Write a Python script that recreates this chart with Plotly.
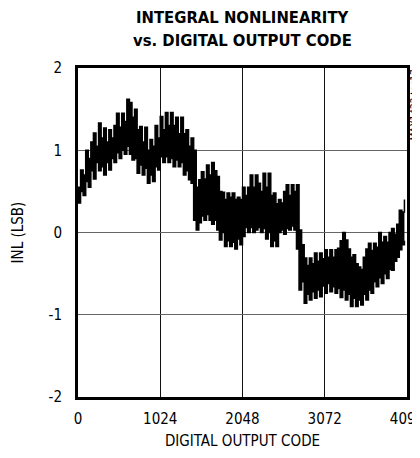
import plotly.graph_objects as go

# Digital output codes (sampled every 32 codes)
codes = list(range(0, 4096, 32))

# Upper edge of the INL band (LSB)
inl_upper = [
    0.55, 0.76, 0.70, 1.00, 0.90, 1.10, 1.21, 1.05, 1.33, 1.15,
    1.27, 1.10, 1.25, 1.15, 1.30, 1.45, 1.28, 1.45, 1.35, 1.62,
    1.58, 1.40, 1.50, 1.25, 1.29, 1.10, 1.28, 1.00, 1.13, 1.05,
    1.30, 1.15, 1.41, 1.25, 1.46, 1.30, 1.46, 1.30, 1.40, 1.20,
    1.40, 1.20, 1.25, 1.05, 1.15, 1.00, 0.55, 0.64, 0.74, 0.65,
    0.82, 0.70, 0.85, 0.75, 0.68, 0.50, 0.49, 0.40, 0.48, 0.43,
    0.48, 0.40, 0.43, 0.40, 0.55, 0.45, 0.55, 0.70, 0.55, 0.70,
    0.60, 0.50, 0.72, 0.55, 0.72, 0.45, 0.48, 0.35, 0.40, 0.36,
    0.50, 0.58, 0.45, 0.58, 0.50, 0.58, 0.03, -0.15, -0.31, -0.40,
    -0.31, -0.38, -0.25, -0.35, -0.25, -0.32, -0.21, -0.30, -0.21, -0.30,
    -0.21, -0.19, -0.10, 0.00, -0.09, -0.20, -0.30, -0.27, -0.38, -0.42,
    -0.45, -0.30, -0.20, -0.13, -0.22, -0.13, -0.18, 0.00, -0.12, -0.05,
    -0.12, 0.00, 0.05, -0.02, 0.10, 0.27, 0.25, 0.40,
]

# Lower edge of the INL band (LSB)
inl_lower = [
    0.36, 0.50, 0.45, 0.62, 0.55, 0.75, 0.65, 0.85, 0.75, 0.80,
    0.70, 0.85, 0.76, 0.90, 0.85, 0.97, 0.90, 1.00, 0.95, 1.05,
    0.95, 0.88, 0.90, 0.72, 0.82, 0.70, 0.78, 0.60, 0.70, 0.62,
    0.80, 0.76, 0.92, 0.85, 0.92, 0.85, 0.90, 0.80, 0.88, 0.80,
    0.85, 0.70, 0.75, 0.64, 0.60, 0.15, 0.03, 0.12, 0.20, 0.15,
    0.22, 0.15, 0.10, 0.15, 0.03, -0.09, 0.00, -0.17, -0.10, -0.17,
    -0.12, -0.20, -0.08, -0.15, -0.05, 0.06, 0.00, 0.06, 0.00, 0.03,
    0.06, 0.00, 0.05, -0.08, 0.00, -0.17, -0.10, -0.17, 0.00, 0.03,
    -0.02, 0.05, 0.03, 0.08, 0.03, -0.20, -0.70, -0.60, -0.86, -0.75,
    -0.82, -0.72, -0.80, -0.70, -0.78, -0.65, -0.74, -0.62, -0.72, -0.66,
    -0.74, -0.68, -0.79, -0.70, -0.82, -0.75, -0.90, -0.80, -0.90, -0.82,
    -0.88, -0.75, -0.82, -0.70, -0.74, -0.60, -0.66, -0.55, -0.62, -0.50,
    -0.56, -0.45, -0.46, -0.35, -0.30, -0.21, -0.15, -0.10,
]

x_ticks = [0, 1024, 2048, 3072, 4096]
y_ticks = [-2, -1, 0, 1, 2]

FONT = "DejaVu Sans Condensed, Liberation Sans Narrow, sans-serif"

fig = go.Figure()
fig.add_trace(go.Scatter(
    x=codes, y=inl_lower, mode="lines",
    line=dict(color="black", width=1.5, shape="hv"),
    hoverinfo="skip", showlegend=False,
))
fig.add_trace(go.Scatter(
    x=codes, y=inl_upper, mode="lines",
    line=dict(color="black", width=1.5, shape="hv"),
    fill="tonexty", fillcolor="black",
    hoverinfo="skip", showlegend=False,
))

# The page body adds an 8 px offset, so the figure is sized/margined to compensate
fig.update_layout(
    width=412, height=442,
    margin=dict(l=70, r=13, t=60, b=53, autoexpand=False),
    paper_bgcolor="white", plot_bgcolor="white",
    font=dict(family=FONT, size=15, color="black"),
    xaxis=dict(
        range=[0, 4096], tickvals=x_ticks, ticktext=[str(v) for v in x_ticks],
        showgrid=True, gridcolor="#111111", gridwidth=1,
        zeroline=False, showline=True, linecolor="black", linewidth=3,
        mirror=True, ticks="", ticklabelstandoff=6, automargin=False,
        ticklabeloverflow="allow",
        title=dict(text="DIGITAL OUTPUT CODE", standoff=17,
                   font=dict(family=FONT, size=15)),
        tickfont=dict(family=FONT, size=15),
    ),
    yaxis=dict(
        range=[-2, 2], tickvals=y_ticks, ticktext=[str(v) for v in y_ticks],
        showgrid=True, gridcolor="#666666", gridwidth=1,
        zeroline=False, showline=True, linecolor="black", linewidth=3,
        mirror=True, ticks="", ticklabelstandoff=10, automargin=False,
        title=dict(text="INL (LSB)", standoff=22,
                   font=dict(family=FONT, size=15)),
        tickfont=dict(family=FONT, size=15),
    ),
    annotations=[
        dict(text="<b>INTEGRAL NONLINEARITY</b>", x=0.5, xref="paper",
             y=1.152, yref="paper", xanchor="center", yanchor="middle",
             showarrow=False, font=dict(family=FONT, size=16.5, color="black")),
        dict(text="<b>vs. DIGITAL OUTPUT CODE</b>", x=0.5, xref="paper",
             y=1.085, yref="paper", xanchor="center", yanchor="middle",
             showarrow=False, font=dict(family=FONT, size=16.5, color="black")),
        dict(text="MAX1422 toc17", textangle=-90,
             x=1.0, xref="paper", xanchor="center", xshift=7,
             y=1.0, yref="paper", yanchor="top",
             showarrow=False, font=dict(family=FONT, size=10, color="black")),
    ],
)

fig.write_html("out.html")
